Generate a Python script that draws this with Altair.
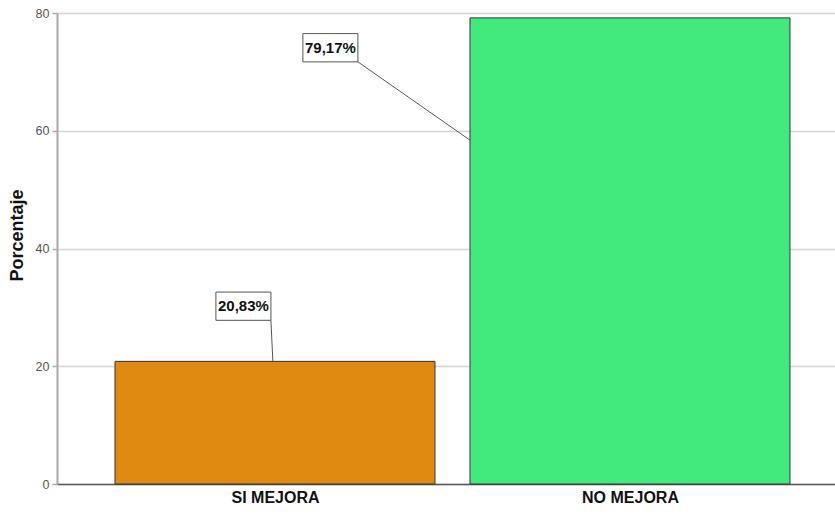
import altair as alt
import pandas as pd

# Bar data
categories = ["SI MEJORA", "NO MEJORA"]
percentages = [20.83, 79.17]
bar_colors = ["#E08A12", "#42EA7E"]
y_ticks = [0, 20, 40, 60, 80]

# Callout placement, in category units (bar centre = 0) and percent
label_dx = [-0.089, -0.844]
label_y = [30.2, 74.1]
leader_end_dx = [-0.006, -0.4507]
leader_end_y = [20.83, 58.4]
BOX_HALF_W = 0.0775
BOX_HALF_H = 2.4
BAR_HALF = 0.4507

idx = list(range(len(categories)))
bars = pd.DataFrame({
    "idx": idx,
    "cat": categories,
    "pct": percentages,
    "x0": [i - BAR_HALF for i in idx],
    "x1": [i + BAR_HALF for i in idx],
})

labels = [f"{v:.2f}".replace(".", ",") + "%" for v in percentages]
cx = [i + d for i, d in zip(idx, label_dx)]
notes = pd.DataFrame({
    "text": labels,
    "cx": cx,
    "cy": label_y,
    "bx0": [c - BOX_HALF_W for c in cx],
    "bx1": [c + BOX_HALF_W for c in cx],
    "by0": [y - BOX_HALF_H for y in label_y],
    "by1": [y + BOX_HALF_H for y in label_y],
    "lx0": [c + BOX_HALF_W for c in cx],
    "ly0": [y - BOX_HALF_H for y in label_y],
    "lx1": [i + d for i, d in zip(idx, leader_end_dx)],
    "ly1": leader_end_y,
})

x_scale = alt.Scale(domain=[-0.6141, 1.5775], nice=False, zero=False)
y_scale = alt.Scale(domain=[0, 80], nice=False)

label_expr = "[" + ",".join(f"'{c}'" for c in categories) + "][datum.value]"

bar_layer = alt.Chart(bars).mark_bar(stroke="#333333", strokeWidth=1).encode(
    x=alt.X("x0:Q", scale=x_scale,
            axis=alt.Axis(values=idx, labelExpr=label_expr, title=None,
                          grid=False, ticks=False, domainColor="#555555",
                          domainWidth=1.5, labelFont="Liberation Sans",
                          labelFontWeight="bold", labelFontSize=16,
                          labelColor="#111111", labelPadding=5)),
    x2="x1:Q",
    y=alt.Y("pct:Q", scale=y_scale,
            axis=alt.Axis(values=y_ticks, title="Porcentaje", grid=True,
                          gridColor="#d4d4d4", gridWidth=1.5,
                          domainColor="#a8a8a8", domainWidth=2,
                          tickColor="#a8a8a8", tickSize=5, tickWidth=1.5,
                          labelFont="Liberation Sans", labelFontSize=12.5,
                          labelColor="#555555", labelPadding=3,
                          titleFont="Liberation Sans", titleFontSize=18,
                          titleFontWeight="bold", titleColor="#111111",
                          titleX=-40, titleY=222, titleBaseline="middle")),
    y2=alt.datum(0),
    color=alt.Color("cat:N", scale=alt.Scale(domain=categories, range=bar_colors),
                    legend=None),
)

leader_layer = alt.Chart(notes).mark_rule(color="#555555", strokeWidth=1).encode(
    x=alt.X("lx0:Q", scale=x_scale),
    x2="lx1:Q",
    y=alt.Y("ly0:Q", scale=y_scale),
    y2="ly1:Q",
)

box_layer = alt.Chart(notes).mark_rect(fill="white", stroke="#555555",
                                        strokeWidth=1).encode(
    x=alt.X("bx0:Q", scale=x_scale),
    x2="bx1:Q",
    y=alt.Y("by0:Q", scale=y_scale),
    y2="by1:Q",
)

text_layer = alt.Chart(notes).mark_text(font="Liberation Sans", fontSize=15,
                                         fontWeight="bold", color="#111111",
                                         baseline="middle", align="center").encode(
    x=alt.X("cx:Q", scale=x_scale),
    y=alt.Y("cy:Q", scale=y_scale),
    text="text:N",
)

chart = alt.layer(bar_layer, leader_layer, box_layer, text_layer).properties(
    width=778,
    height=471,
    autosize=alt.AutoSizeParams(type="none"),
    padding={"left": 57, "top": 13, "right": 0, "bottom": 32},
    background="white",
).configure_view(stroke=None)

chart.save("out.html", embed_options={"renderer": "svg", "actions": False})
